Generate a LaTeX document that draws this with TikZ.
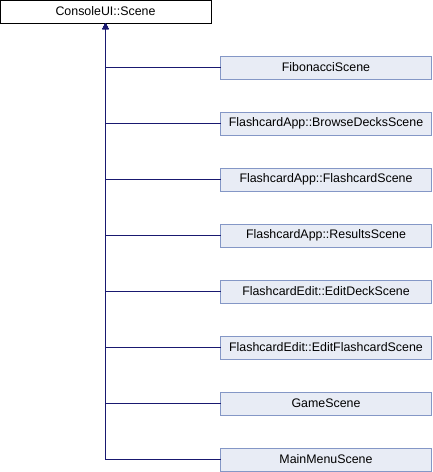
\documentclass[tikz,border=0pt]{standalone}
\usepackage{fontspec}
\setmainfont{Liberation Sans}
\usepackage{tikz}
\usetikzlibrary{positioning}
\usetikzlibrary{arrows.meta}
\definecolor{boxfill}{HTML}{E8ECF5}
\definecolor{boxedge}{HTML}{8497C6}
\definecolor{linkblue}{HTML}{191970}

\begin{document}
\begin{tikzpicture}[
    x=1pt, y=-1pt,
    node distance=33pt,
    base/.style={
        draw=black,
        fill=white,
        line width=1pt,
        minimum width=211pt,
        minimum height=23pt,
        inner sep=0pt,
        outer sep=0pt,
        font=\fontsize{12.4}{14}\selectfont
    },
    derived/.style={
        base,
        draw=boxedge,
        fill=boxfill
    },
    link/.style={
        draw=linkblue,
        line width=1pt,
        {Triangle[length=6pt,width=6pt]}-
    }
]
\useasboundingbox (0,0) rectangle (432,472);

% Base class
\node[base] (scene) at (105.5,11.5) {ConsoleUI::Scene};

% Derived classes
\node[derived] (fibonacci) at (326,67.5) {FibonacciScene};
\node[derived, below=of fibonacci] (browse) {FlashcardApp::BrowseDecksScene};
\node[derived, below=of browse] (flashcard) {FlashcardApp::FlashcardScene};
\node[derived, below=of flashcard] (results) {FlashcardApp::ResultsScene};
\node[derived, below=of results] (editdeck) {FlashcardEdit::EditDeckScene};
\node[derived, below=of editdeck] (editcard) {FlashcardEdit::EditFlashcardScene};
\node[derived, below=of editcard] (game) {GameScene};
\node[derived, below=of game] (mainmenu) {MainMenuScene};

% Inheritance links
\draw[link] (scene.south) |- (fibonacci.west);
\draw[link] (scene.south) |- (browse.west);
\draw[link] (scene.south) |- (flashcard.west);
\draw[link] (scene.south) |- (results.west);
\draw[link] (scene.south) |- (editdeck.west);
\draw[link] (scene.south) |- (editcard.west);
\draw[link] (scene.south) |- (game.west);
\draw[link] (scene.south) |- (mainmenu.west);

\end{tikzpicture}
\end{document}
